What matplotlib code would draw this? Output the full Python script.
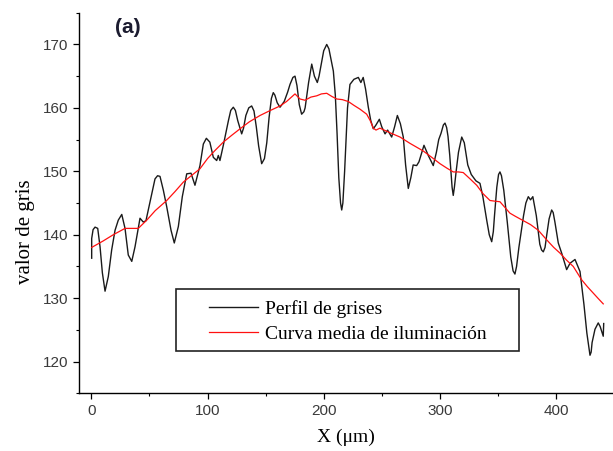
import numpy as np
import matplotlib.pyplot as plt
from matplotlib.patches import Rectangle

# perfil de grises (black)
x_perfil = [0.3, 0.3, 1.5, 3.2, 5.5, 7.5, 9.5, 11.8, 14.6, 17.5, 20.4, 23.2, 26.2, 29,
            31.8, 34.8, 37.6, 41.9, 44.7, 47, 49, 52, 54.8, 57, 59.1, 62, 64.9, 68.6,
            71.4, 74.9, 78.3, 82.1, 85.8, 89.2, 93.5, 96.4, 99, 102, 105, 107.9, 109.3,
            110.7, 113.6, 118, 120, 122.2, 124, 126, 129.4, 131, 133, 135.5, 138, 140,
            142, 144, 146.6, 149, 151, 153, 155, 156.6, 158, 160, 162.4, 166, 169, 171,
            173.5, 175.3, 177, 179, 181, 183, 184, 187, 189.7, 192, 194.5, 196, 198,
            200, 202.6, 204.5, 206.5, 208.3, 210, 211.5, 213, 214.5, 215.5, 216.5, 218,
            219.5, 220.5, 222.6, 226, 229.8, 232, 234, 236, 238.4, 240.5, 242.7, 245,
            247.9, 250, 252.8, 255, 258.5, 261, 263.4, 266, 268.5, 270.5, 272.8, 275,
            277, 280, 282, 286.3, 290, 294.3, 297, 299, 301, 303, 304.4, 305.8, 307,
            308.5, 310.5, 311.5, 312.5, 314, 316, 318.8, 321, 324, 327, 331, 334.5, 337,
            340.3, 342.5, 344.6, 346, 347, 349, 350.5, 351.7, 353, 355, 358, 361, 363,
            364.6, 366, 368, 372, 374, 376.1, 378, 380, 383, 386, 387.5, 389, 390.5,
            392, 394, 396.2, 397.5, 399, 401.9, 405, 409.1, 412, 416.3, 420.6, 424,
            426.5, 429.2, 430.2, 431, 433.5, 436.3, 438, 440.6, 441]
y_perfil = [136.3, 139.4, 140.8, 141.2, 141.0, 138.1, 134.0, 131.1, 133.4, 137.6, 140.7,
            142.3, 143.2, 141.0, 136.8, 135.8, 138.1, 142.6, 142.0, 142.2, 143.9, 146.5,
            148.8, 149.3, 149.2, 147.0, 144.4, 140.7, 138.7, 141.3, 146.0, 149.6, 149.7,
            147.8, 150.9, 154.3, 155.2, 154.6, 152.2, 151.7, 152.5, 151.7, 154.1, 158,
            159.6, 160.1, 159.6, 158, 155.9, 156.8, 158.8, 160, 160.3, 159.5, 157, 154,
            151.2, 152, 154.5, 158.5, 161.5, 162.4, 162, 160.8, 160.1, 161, 162.5, 163.7,
            164.8, 165.0, 163.5, 160.5, 159.0, 159.4, 160, 164, 166.9, 165, 164.0, 165,
            167, 169, 170.0, 169.3, 167.5, 165.8, 162, 156, 149, 145, 143.9, 145, 150,
            156, 160, 163.7, 164.5, 164.8, 164, 164.8, 163, 160.1, 158, 156.7, 157.3,
            158.2, 157, 155.9, 156.5, 155.4, 157, 158.8, 157.5, 155.4, 151, 147.3, 149,
            151, 150.9, 151.5, 154.1, 152.5, 150.9, 153, 155, 156, 157.3, 157.6, 156.9,
            155.5, 152.5, 147.5, 146.2, 147.5, 150, 153, 155.4, 154.5, 151, 149.5, 148.5,
            148.1, 146, 142.3, 140, 138.9, 140.5, 143, 147.5, 149.5, 149.9, 149.3, 147,
            142, 136.5, 134.3, 133.8, 135, 138, 143, 145, 146.0, 145.5, 146, 143, 138.5,
            137.6, 137.3, 138, 140, 142.5, 143.9, 143.5, 142, 138.7, 137, 134.5, 135.5,
            136.1, 134.2, 129, 124.5, 121.0, 121.5, 123, 125.1, 126.1, 125.5, 124.0, 126]

# curva media de iluminacion (red)
x_media = [0.3, 10, 18.9, 29, 40.4, 47.7, 55, 64.9, 72, 79.2, 86, 93.5, 100, 106, 113.6,
           121, 128, 136, 145.2, 153, 162.4, 168, 175.3, 179.6, 183.9, 189, 194, 198,
           202.6, 207, 211.2, 216, 221.2, 226, 231.2, 237, 240, 242.7, 245, 248.4, 252,
           258, 265.7, 274.3, 280, 285.7, 293, 300.1, 306, 311.5, 316, 320.1, 326, 331.7,
           337, 343.1, 347, 351.7, 356, 360.3, 365, 371, 378, 384.7, 391.9, 398, 403.4,
           409, 414.8, 422, 427, 432, 436, 440.6]
y_media = [138.0, 139, 140.0, 141.0, 141.0, 142.3, 143.8, 145.4, 146.8, 148.3, 149.3,
           150.4, 152, 153.2, 154.6, 155.7, 156.7, 157.8, 158.8, 159.5, 160.3, 161,
           162.2, 161.4, 161.2, 161.7, 161.9, 162.2, 162.3, 161.8, 161.4, 161.3, 161.0,
           160.4, 159.8, 159.0, 158, 156.8, 156.5, 156.8, 156.5, 156, 155.4, 154.4,
           153.8, 153.2, 152.2, 151.2, 150.5, 149.9, 149.9, 149.8, 148.8, 147.8, 146.5,
           145.4, 145.3, 145.2, 144.3, 143.4, 142.9, 142.3, 141.6, 140.7, 139.2, 138,
           137.1, 136, 135.0, 132.9, 131.8, 130.8, 130, 129.1]

x_ticks = [0, 100, 200, 300, 400]
y_ticks = [120, 130, 140, 150, 160, 170]

fig = plt.figure(figsize=(6.13, 4.51), dpi=100)
ax = fig.add_axes([0.1289, 0.1279, 0.8711, 0.8439])

l1, = ax.plot(x_perfil, y_perfil, color='#1a1a1a', lw=1.0, label='Perfil de grises')
l2, = ax.plot(x_media, y_media, color='#ff1010', lw=0.9, label='Curva media de iluminación')

ax.set_xlim(-10.6, 449)
ax.set_ylim(115, 175)
ax.set_xticks(x_ticks)
ax.set_yticks(y_ticks)
ax.set_xticks(np.arange(50, 450, 100), minor=True)
ax.set_yticks(np.arange(115, 176, 10), minor=True)

for s in ['top', 'right']:
    ax.spines[s].set_visible(False)
for s in ['left', 'bottom']:
    ax.spines[s].set_linewidth(1.0)

ax.tick_params(which='major', direction='out', length=4.5, width=0.9, pad=3,
               labelsize=11, labelcolor='#3a3a3a')
ax.tick_params(which='minor', direction='out', length=2.5, width=0.8)
for lab in ax.get_xticklabels() + ax.get_yticklabels():
    lab.set_family('Liberation Sans')

ax.set_xlabel('X (μm)', family='Liberation Serif', fontsize=14, labelpad=8)
ax.set_ylabel('valor de gris', family='Liberation Serif', fontsize=15)
ax.yaxis.set_label_coords(-0.083, 0.424)

ax.text(0.067, 0.986, '(a)', transform=ax.transAxes, ha='left', va='top',
        fontsize=15, fontweight='bold', family='Liberation Sans', color='#1c1c30')

leg = ax.legend(handles=[l1, l2], loc='center left', bbox_to_anchor=(0.2434, 0.189),
                frameon=False, borderpad=0, borderaxespad=0, handlelength=2.5,
                handletextpad=0.36, labelspacing=0.35,
                prop={'family': 'Liberation Serif', 'size': 14})
ax.add_patch(Rectangle((0.182, 0.111), 0.642, 0.162, transform=ax.transAxes,
                       fill=False, edgecolor='#222222', lw=1.2, zorder=5))

fig.savefig('out.png', dpi=100)
